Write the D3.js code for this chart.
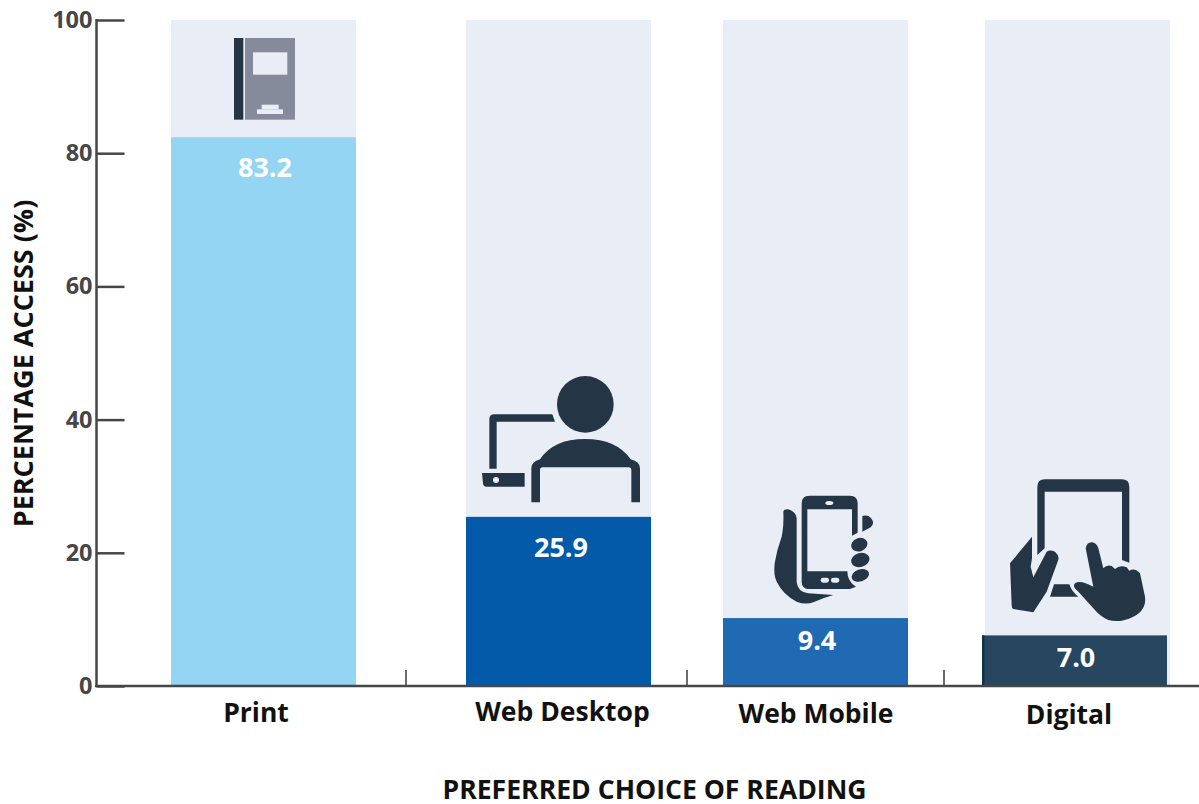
<!DOCTYPE html>
<html><head><meta charset="utf-8">
<script src="https://cdn.jsdelivr.net/npm/d3@7/dist/d3.min.js"></script>
<style>html,body{margin:0;background:#fff}svg{display:block}text{font-family:"Open Sans",sans-serif;font-weight:700}</style>
</head><body><svg id="c" width="1199" height="804"></svg>
<script>
const categories = ["Print","Web Desktop","Web Mobile","Digital"];
const valueLabels = ["83.2","25.9","9.4","7.0"];
const barHeights = [82.4,25.4,10.2,7.6];
const barColors = ["#94d5f4","#025aa8","#1f6ab2","#27465f"];
const yTicks = [0,20,40,60,80,100];
const yTitle = "PERCENTAGE ACCESS (%)";
const xTitle = "PREFERRED CHOICE OF READING";

const svg = d3.select("#c");
const W = 185, dark = "#243645", axisC = "#464646";
const y = d3.scaleLinear().domain([0,100]).range([686,20]);
const xBack = d3.scaleOrdinal().domain(categories).range([171,466,723,985]);
const xBar = d3.scaleOrdinal().domain(categories).range([171,466,723,982]);
const xLab = d3.scaleOrdinal().domain(categories).range([256,562.5,816,1069]);
const yLab = d3.scaleOrdinal().domain(categories).range([722,721,723,724]);
const xVal = d3.scaleOrdinal().domain(categories).range([265,561,817,1076]);
const sep = d3.scaleOrdinal().domain(categories.slice(1)).range([406,687,944]);

svg.selectAll(".bg").data(categories).join("rect").attr("class","bg")
  .attr("x",d=>xBack(d)).attr("y",y(100)).attr("width",W).attr("height",y(0)-y(100)).attr("fill","#e9edf6");
svg.selectAll(".bar").data(categories).join("rect").attr("class","bar")
  .attr("x",d=>xBar(d)).attr("y",(d,i)=>y(barHeights[i])).attr("width",W)
  .attr("height",(d,i)=>y(0)-y(barHeights[i])).attr("fill",(d,i)=>barColors[i]);
svg.append("rect").attr("x",982).attr("y",y(barHeights[3])).attr("width",2.5)
  .attr("height",y(0)-y(barHeights[3])).attr("fill","#123048");

svg.selectAll(".val").data(categories).join("text").attr("class","val")
  .attr("x",d=>xVal(d)).attr("y",(d,i)=>y(barHeights[i])+40-(i>1?8:0))
  .attr("text-anchor","middle").attr("font-size",27).attr("fill","#fff").text((d,i)=>valueLabels[i]);

// axes
const ya = svg.append("g").attr("transform","translate(96.5,0)")
  .call(d3.axisLeft(y).tickValues(yTicks).tickSize(-28).tickPadding(3));
ya.select(".domain").remove();
ya.selectAll("line").attr("stroke",axisC).attr("stroke-width",2.5);
ya.selectAll("text").attr("x",-4).attr("font-size",23.5).attr("fill",axisC)
  .style("font-family",'"Open Sans",sans-serif').style("font-weight",700);
svg.append("line").attr("x1",96.5).attr("x2",96.5).attr("y1",y(100)-1).attr("y2",y(0)+1).attr("stroke",axisC).attr("stroke-width",2.5);
svg.append("line").attr("x1",95).attr("x2",1199).attr("y1",y(0)).attr("y2",y(0)).attr("stroke",axisC).attr("stroke-width",2.5);
svg.selectAll(".sep").data(categories.slice(1)).join("line").attr("class","sep")
  .attr("x1",d=>sep(d)).attr("x2",d=>sep(d)).attr("y1",670).attr("y2",686).attr("stroke",axisC).attr("stroke-width",1.6);

svg.selectAll(".cat").data(categories).join("text").attr("class","cat")
  .attr("x",d=>xLab(d)).attr("y",d=>yLab(d)).attr("text-anchor","middle")
  .attr("font-size",26.5).attr("fill","#111").text(d=>d);
svg.append("text").attr("x",654.5).attr("y",799).attr("text-anchor","middle").attr("font-size",26.6).attr("fill","#111").text(xTitle);
svg.append("text").attr("transform","translate(33,363.5) rotate(-90)").attr("text-anchor","middle").attr("font-size",27).attr("fill","#111").text(yTitle);

// icons, traced in 3x crop coordinates
const icon = (x0,y0)=>svg.append("g").attr("transform",`translate(${x0},${y0}) scale(${1/3})`).attr("fill",dark);
const book = icon(160,10);
book.append("rect").attr("x",222).attr("y",84).attr("width",28).attr("height",245);
book.append("rect").attr("x",255).attr("y",84).attr("width",150).attr("height",245).attr("fill","#858b9a");
[[279,127,103,67],[305,284,51,14],[291,298,78,14]].forEach(r=>book.append("rect").attr("x",r[0]).attr("y",r[1]).attr("width",r[2]).attr("height",r[3]).attr("fill","#e9edf6"));

const person = icon(460,360);
person.append("circle").attr("cx",376).attr("cy",133).attr("r",85);
person.append("path").attr("d","M88,326 L88,178 Q88,163 103,163 L277,163 L285,185 L110,185 L110,326Z");
person.append("path").attr("d","M66,339 L194,339 L194,380 L78,380 Q70,380 69,370Z");
person.append("circle").attr("cx",108).attr("cy",360).attr("r",9).attr("fill","#e9edf6");
person.append("path").attr("d","M214,427 L214,325 Q214,305 240,298 Q280,237 375,237 Q470,237 512,298 Q540,305 540,325 L540,427 L514,427 L514,330 Q514,322 506,322 L248,322 Q240,322 240,330 L240,427Z");

const phone = icon(750,470);
phone.append("path").attr("d","M155,100 Q155,77 178,77 L300,77 Q323,77 323,100 L323,188 L306,197 L306,118 L172,118 L172,304 L292,304 Q292,335 318,350 L300,357 L178,357 Q155,357 155,335Z");
phone.append("ellipse").attr("cx",238).attr("cy",99).attr("rx",12).attr("ry",6).attr("fill","#e9edf6");
[[212,323],[243,323]].forEach(r=>phone.append("rect").attr("x",r[0]).attr("y",r[1]).attr("width",25).attr("height",15).attr("rx",7).attr("fill","#e9edf6"));
phone.append("path").attr("d","M100,125 Q102,117 115,118 Q138,125 140,145 L140,335 Q142,365 175,370 L250,375 Q215,385 190,397 Q165,405 140,395 Q100,375 80,335 Q70,315 74,280 Q80,240 95,200 Q102,165 100,125Z");
phone.append("path").attr("d","M337,138 Q355,133 365,147 Q375,160 362,172 L337,185Z");
[[328,224,25,20,-20],[331,270,28,21,-15],[331,316,27,18,-20]].forEach(e=>phone.append("ellipse")
  .attr("transform",`translate(${e[0]},${e[1]}) rotate(${e[4]})`).attr("rx",e[2]).attr("ry",e[3]));

const tablet = icon(750,470);
tablet.append("path").attr("d","M862,255 L862,50 Q862,28 885,28 L1115,28 Q1138,28 1138,50 L1138,278 L1116,270 L1116,65 L884,65 L884,235Z");
tablet.append("path").attr("d","M912,343 L958,343 Q965,365 985,380 L900,380Z");
tablet.append("path").attr("d","M846,200 L846,265 L842,290 L850,322 L890,245 Q900,238 915,245 Q930,258 924,272 L890,365 L850,427 L790,417 Q785,415 785,405 L780,280Z");
tablet.append("path").attr("d","M1007,235 Q1010,217 1025,217 Q1040,218 1045,235 L1060,295 Q1070,283 1085,288 L1095,297 Q1110,283 1130,292 L1138,302 Q1155,292 1170,310 L1185,380 Q1190,420 1150,440 Q1110,460 1075,450 Q1050,440 1030,415 L985,365 Q965,350 975,340 Q990,328 1030,350Z");
</script></body></html>
